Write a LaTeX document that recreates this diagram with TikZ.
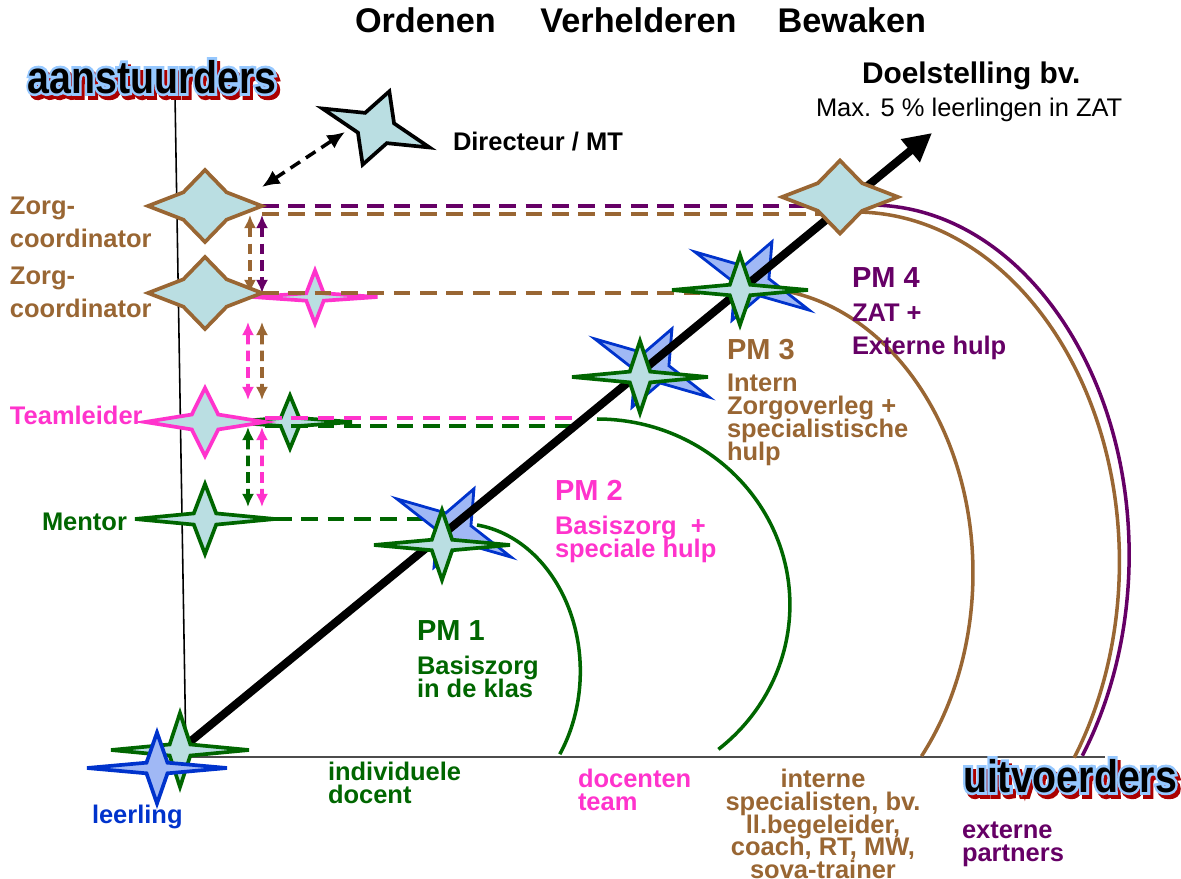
\documentclass[tikz,border=0pt]{standalone}
\usepackage{fontspec}
\setmainfont{Liberation Sans}
\newfontface\kopomtrek{Liberation Sans Bold}[FakeBold=12]
\usetikzlibrary{arrows.meta,calc}

\definecolor{zorgbruin}{RGB}{153,102,51}
\definecolor{zatpaars}{RGB}{102,0,102}
\definecolor{teamroze}{RGB}{255,51,204}
\definecolor{mentorgroen}{RGB}{0,102,0}
\definecolor{leerblauw}{RGB}{0,51,204}
\definecolor{leerlicht}{RGB}{160,184,245}
\definecolor{stervul}{RGB}{186,222,226}
\definecolor{kopblauw}{RGB}{150,200,255}
\definecolor{koprood}{RGB}{170,0,0}

\lineskiplimit=-10pt

% four-point star drawn round the box of a node
\newcommand\ster[3]{%
  \filldraw[#2] (#1.west) -- ($(#1.center)!#3!(#1.north west)$) -- (#1.north)
    -- ($(#1.center)!#3!(#1.north east)$) -- (#1.east)
    -- ($(#1.center)!#3!(#1.south east)$) -- (#1.south)
    -- ($(#1.center)!#3!(#1.south west)$) -- cycle;}

\begin{document}
\begin{tikzpicture}[
  x=0.02cm, y=-0.02cm,
  >=Latex,
  every node/.style={inner sep=0pt, outer sep=0pt, font=\bfseries\fontsize{14.5}{13}\selectfont},
  starbox/.style 2 args={minimum width=#1*0.569pt, minimum height=#2*0.569pt},
  sterlijn/.style={draw=#1, fill=stervul, line width=2.1pt},
  streep/.style={line width=2.2pt, dash pattern=on 9.5pt off 5.5pt},
  dubbelpijl/.style={line width=2.1pt, dash pattern=on 6pt off 3.5pt, {Latex[length=7.5pt,width=7pt]}-{Latex[length=7.5pt,width=7pt]}},
  boog/.style={line width=2pt},
  pm/.style={font=\bfseries\fontsize{16.5}{18}\selectfont, anchor=base west},
  tekst/.style={align=left, anchor=north west},
  kop/.style={font=\bfseries\fontsize{26}{26}\selectfont, anchor=base},
  kopschaduw/.style={font=\kopomtrek\fontsize{26}{26}\selectfont, anchor=base}
]
\useasboundingbox (0,0) rectangle (1181,879);

% star boxes
\node[starbox={114}{72}] (zorg1) at (205,206) {};
\node[starbox={114}{72}] (zorg2) at (205,293) {};
\node[starbox={120}{68}] (team) at (205,422) {};
\node[starbox={140}{70}] (mentor) at (205,519) {};
\node[starbox={125}{53}] (teamklein) at (315,297) {};
\node[starbox={124}{53}] (mentorklein) at (290,422) {};
\node[starbox={128}{88}, rotate=-27] (pm1blauw) at (454,528) {};
\node[starbox={128}{88}, rotate=-27] (pm2blauw) at (652,368) {};
\node[starbox={128}{88}, rotate=-27] (pm3blauw) at (752,281) {};
\node[starbox={136}{70}] (pm1ster) at (442,545) {};
\node[starbox={136}{72}] (pm2ster) at (640,377) {};
\node[starbox={136}{70}] (pm3ster) at (740,290) {};
\node[starbox={116}{73}] (pm4ster) at (840,197) {};
\node[starbox={114}{78}, rotate=-20] (directeur) at (376,128) {};
\node[starbox={138}{74}] (leerling) at (180,750) {};
\node[starbox={140}{71}] (leerlingblauw) at (157,768) {};

% axes
\coordinate (ytop) at (175,95);
\coordinate (oorsprong) at (186,757);
\coordinate (xeind) at (1105,757);
\coordinate (doel) at (932,133);
\draw[line width=0.9pt] (ytop) -- (oorsprong);
\draw[line width=1pt, black!70] (oorsprong) -- (xeind);

% arcs
\coordinate (boog1) at (477,525);
\coordinate (boog2) at (597,419);
\coordinate (boog3) at (753,288);
\coordinate (boog4) at (855,212);
\coordinate (boog5) at (870,205);
\draw[boog, mentorgroen] (boog1) arc[start angle=82, end angle=-34, x radius=68.3pt, y radius=84.2pt];
\draw[boog, mentorgroen] (boog2) arc[start angle=90, end angle=-51, x radius=109.8pt, y radius=105.8pt];
\draw[boog, zorgbruin] (boog3) arc[start angle=90, end angle=-40, x radius=125.2pt, y radius=162.2pt];
\draw[boog, zorgbruin] (boog4) arc[start angle=90, end angle=-34, x radius=150.5pt, y radius=199.2pt];
\draw[boog, zatpaars] (boog5) arc[start angle=90, end angle=-35, x radius=147.5pt, y radius=199.2pt];

\ster{teamklein}{sterlijn=teamroze}{0.14}
\ster{mentorklein}{sterlijn=mentorgroen}{0.15}

% dashed lines
\draw[streep, zatpaars] (zorg1.east) -- (zorg1.east -| pm4ster.center);
\draw[streep, zorgbruin] ([yshift=-4.5pt]zorg1.east) -- ([yshift=-4.5pt]zorg1.east -| pm4ster.center);
\draw[streep, zorgbruin] (zorg2.east) -- (zorg2.east -| pm3ster.center);
\draw[streep, teamroze] ([yshift=2.3pt]team.east) -- ([yshift=2.3pt]team.east -| pm2ster.west);
\draw[streep, mentorgroen] ([yshift=-2.3pt]team.east) -- ([yshift=-2.3pt]team.east -| pm2ster.west);
\draw[streep, mentorgroen] (mentor.east) -- (mentor.east -| pm1ster.center);

% double arrows
\draw[dubbelpijl, zorgbruin] ([shift={(-12,9)}]zorg1.east) -- ([shift={(-12,0)}]zorg2.east);
\draw[dubbelpijl, zatpaars] ([shift={(0,9)}]zorg1.east) -- (zorg2.east);
\draw[dubbelpijl, teamroze] ([shift={(-14,29)}]zorg2.east) -- ([shift={(-17,-22)}]team.east);
\draw[dubbelpijl, zorgbruin] ([shift={(0,29)}]zorg2.east) -- ([shift={(-3,-22)}]team.east);
\draw[dubbelpijl, mentorgroen] ([shift={(-17,5)}]team.east) -- ([shift={(-27,-12)}]mentor.east);
\draw[dubbelpijl, teamroze] ([shift={(-3,5)}]team.east) -- ([shift={(-13,-12)}]mentor.east);
\draw[line width=2pt, dash pattern=on 6.5pt off 4pt, {Latex[length=10pt,width=9pt]}-{Latex[length=10pt,width=9pt]}]
  ([shift={(0,-19)}]zorg1.east) -- ([shift={(-31,4)}]directeur.center);

% diagonal
\ster{pm1blauw}{sterlijn=leerblauw, fill=leerlicht, line width=1.6pt}{0.22}
\ster{pm2blauw}{sterlijn=leerblauw, fill=leerlicht, line width=1.6pt}{0.22}
\ster{pm3blauw}{sterlijn=leerblauw, fill=leerlicht, line width=1.6pt}{0.22}
\draw[line width=4.6pt, -{Triangle[length=16pt,width=16pt]}] (leerling.center) -- (doel);
\ster{pm1ster}{sterlijn=mentorgroen}{0.15}
\ster{pm2ster}{sterlijn=mentorgroen}{0.15}
\ster{pm3ster}{sterlijn=mentorgroen}{0.15}
\ster{pm4ster}{sterlijn=zorgbruin}{0.38}

% left stars
\ster{zorg1}{sterlijn=zorgbruin}{0.38}
\ster{zorg2}{sterlijn=zorgbruin}{0.38}
\ster{team}{sterlijn=teamroze}{0.22}
\ster{mentor}{sterlijn=mentorgroen}{0.16}
\ster{directeur}{sterlijn=black}{0.27}
\ster{leerling}{sterlijn=mentorgroen}{0.15}
\ster{leerlingblauw}{sterlijn=leerblauw, fill=leerlicht}{0.15}

% headings
\node[kopschaduw, text=koprood] (aanschaduw) at (155,97) {\scalebox{0.86}[1]{aanstuurders}};
\node[kopschaduw, text=kopblauw] (aanrand) at (152,93) {\scalebox{0.86}[1]{aanstuurders}};
\node[kop] (aanstuurders) at (152,93) {\scalebox{0.86}[1]{aanstuurders}};
\node[kopschaduw, text=koprood] (uitschaduw) at (1073,796) {\scalebox{0.86}[1]{uitvoerders}};
\node[kopschaduw, text=kopblauw] (uitrand) at (1070,792) {\scalebox{0.86}[1]{uitvoerders}};
\node[kop] (uitvoerders) at (1070,792) {\scalebox{0.86}[1]{uitvoerders}};

\node[font=\bfseries\fontsize{19.5}{20}\selectfont, anchor=base west] (kopregel) at (355,32)
  {Ordenen\hspace{1.3em}Verhelderen\hspace{1.2em}Bewaken};
\node[font=\bfseries\fontsize{17}{18}\selectfont, anchor=base west] (doeltekst) at (862,83) {Doelstelling bv.};
\node[font=\mdseries\fontsize{14.5}{16}\selectfont, anchor=base west] (maxtekst) at (816,116) {Max. 5 \% leerlingen in ZAT};
\node[anchor=base west] (dirtekst) at (453,150) {Directeur / MT};

% left labels
\node[tekst, text=zorgbruin, font=\bfseries\fontsize{14.5}{18.5}\selectfont] (zorg1tekst) at (10,197) {Zorg-\\coordinator};
\node[tekst, text=zorgbruin, font=\bfseries\fontsize{14.5}{18.5}\selectfont] (zorg2tekst) at (10,267) {Zorg-\\coordinator};
\node[anchor=base west, text=teamroze] (teamtekst) at (10,424) {Teamleider};
\node[anchor=base west, text=mentorgroen] (mentortekst) at (42,530) {Mentor};
\node[anchor=base west, text=leerblauw] (leerlingtekst) at (92,823) {leerling};

% PM labels
\node[pm, text=mentorgroen] (pm1) at (417,640) {PM 1};
\node[tekst, text=mentorgroen] (pm1tekst) at (417,656) {Basiszorg\\in de klas};
\node[pm, text=teamroze] (pm2) at (555,500) {PM 2};
\node[tekst, text=teamroze] (pm2tekst) at (555,516) {Basiszorg~ +\\speciale hulp};
\node[pm, text=zorgbruin] (pm3) at (727,359) {PM 3};
\node[tekst, text=zorgbruin] (pm3tekst) at (727,374) {Intern\\Zorgoverleg +\\specialistische\\hulp};
\node[pm, text=zatpaars] (pm4) at (852,287) {PM 4};
\node[tekst, text=zatpaars] (pm4tekst) at (852,304) {ZAT +\\[6pt]Externe hulp};

% bottom labels
\node[tekst, text=mentorgroen] (doceerder) at (328,762) {individuele\\docent};
\node[tekst, text=teamroze] (docteam) at (578,769) {docenten\\team};
\node[align=center, anchor=north, text=zorgbruin] (interntekst) at (823,769)
  {interne\\specialisten, bv.\\ll.begeleider,\\coach, RT, MW,\\sova-trainer};
\node[tekst, text=zatpaars] (externtekst) at (962,822) {externe\\partners};
\end{tikzpicture}
\end{document}
